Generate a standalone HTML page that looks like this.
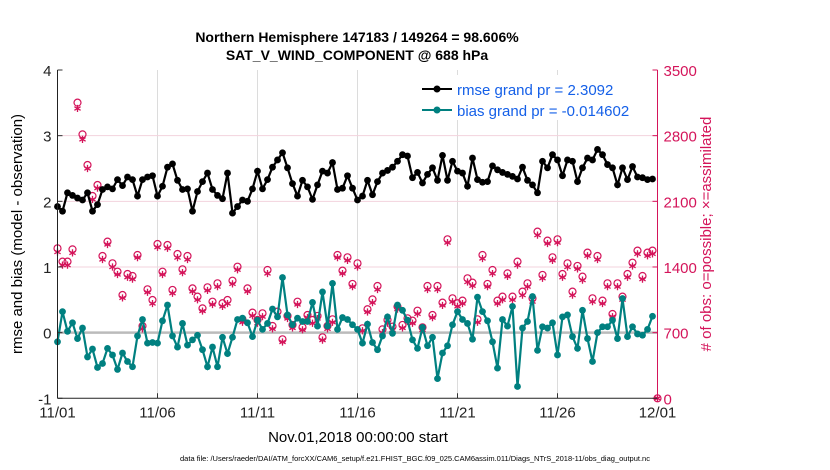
<!DOCTYPE html>
<html><head><meta charset="utf-8"><style>
body{margin:0;background:#fff;}
svg{display:block;font-family:"Liberation Sans",Arial,sans-serif;}
</style></head><body>
<svg id="chart" width="830" height="470" viewBox="0 0 830 470">
<text x="357" y="42" text-anchor="middle" font-size="14" font-weight="bold">Northern Hemisphere 147183 / 149264 = 98.606%</text>
<text x="357" y="60" text-anchor="middle" font-size="14" font-weight="bold">SAT_V_WIND_COMPONENT @ 688 hPa</text>
<g id="grid"></g>
<g id="marks"></g>
<g id="axes"></g>
<text transform="translate(22,234) rotate(-90)" text-anchor="middle" font-size="15">rmse and bias (model - observation)</text>
<text transform="translate(711,234) rotate(-90)" text-anchor="middle" font-size="15" fill="#d4145a"># of obs: o=possible; ×=assimilated</text>
<text x="358" y="442" text-anchor="middle" font-size="15">Nov.01,2018 00:00:00 start</text>
<text x="415" y="461" text-anchor="middle" font-size="7.5">data file: /Users/raeder/DAI/ATM_forcXX/CAM6_setup/f.e21.FHIST_BGC.f09_025.CAM6assim.011/Diags_NTrS_2018-11/obs_diag_output.nc</text>
<g>
<rect x="418" y="75" width="235" height="45" fill="#fff"/>
<line x1="422" y1="89" x2="452" y2="89" stroke="#000" stroke-width="2"/>
<circle cx="437" cy="89" r="3.5" fill="#000"/>
<text x="457" y="95" font-size="15" fill="#1560e8">rmse grand pr = 2.3092</text>
<line x1="422" y1="110" x2="452" y2="110" stroke="#008080" stroke-width="2"/>
<circle cx="437" cy="110" r="3.5" fill="#008080"/>
<text x="457" y="116" font-size="15" fill="#1560e8">bias grand pr = -0.014602</text>
</g>
</svg>
<script>
const xTickLabels=["11/01","11/06","11/11","11/16","11/21","11/26","12/01"];
const yTickLabels=["-1","0","1","2","3","4"];
const rTickLabels=["0","700","1400","2100","2800","3500"];
const rmse=[1.92,1.85,2.13,2.09,2.05,2.02,2.13,1.85,1.95,2.18,2.22,2.19,2.33,2.24,2.37,2.33,2.08,2.33,2.37,2.39,2.08,2.23,2.52,2.57,2.32,2.18,2.19,1.85,2.15,2.30,2.43,2.18,2.09,2.04,2.43,1.82,1.92,2.02,2.00,2.19,2.46,
2.19,2.33,2.52,2.63,2.74,2.51,2.27,2.08,2.32,2.22,2.03,2.25,2.46,2.43,2.59,2.18,2.20,2.39,2.20,2.02,2.08,2.32,2.10,2.30,2.43,2.47,2.52,2.61,2.71,2.69,2.36,2.44,2.28,2.41,2.51,2.32,2.70,2.32,2.61,2.46,
2.43,2.23,2.66,2.33,2.29,2.30,2.54,2.48,2.44,2.41,2.38,2.34,2.52,2.32,2.25,2.13,2.61,2.51,2.71,2.63,2.39,2.63,2.61,2.30,2.51,2.66,2.63,2.79,2.71,2.56,2.51,2.25,2.51,2.33,2.53,2.37,2.36,2.33,2.34];
const bias=[-0.14,0.32,0.02,0.15,-0.09,0.07,-0.37,-0.25,-0.53,-0.47,-0.24,-0.34,-0.56,-0.31,-0.44,-0.52,-0.05,0.20,-0.16,-0.15,-0.16,0.18,0.42,-0.05,-0.22,0.14,-0.19,-0.11,-0.04,-0.26,-0.52,-0.22,-0.52,-0.07,-0.32,-0.07,0.20,0.22,0.15,-0.06,0.19,
0.05,0.14,0.36,0.24,0.84,0.27,0.12,0.22,0.17,0.17,0.46,0.10,0.62,0.10,0.75,0.05,0.23,0.20,0.12,0.05,-0.16,0.13,-0.15,-0.26,-0.05,0.24,-0.01,0.42,0.34,0.19,-0.11,-0.24,0.08,-0.20,-0.07,-0.70,-0.31,-0.20,0.12,0.32,
0.20,0.14,-0.10,0.54,0.32,0.18,-0.14,-0.54,0.20,0.10,0.40,-0.82,0.07,0.17,0.55,-0.27,0.09,0.07,0.15,-0.34,0.24,0.27,-0.06,-0.24,0.34,-0.09,-0.44,0.00,0.09,0.09,0.19,-0.09,0.52,-0.06,0.09,-0.02,-0.04,0.05,0.25];
const possible=[1599,1457,1457,1588,3152,2814,2487,2157,2274,1517,1670,1439,1350,1101,1325,1304,1528,771,1162,1048,1645,1350,1634,1155,1538,1375,1517,1172,1084,959,1183,1030,1226,1013,1048,1254,1403,842,1172,913,835,
906,1368,771,924,629,878,782,1030,757,888,835,878,650,771,842,1528,1361,1503,1219,1439,746,949,1055,1197,735,835,764,977,782,853,828,934,757,1197,888,1197,1020,1695,1066,1013,
1041,1279,1233,842,1528,1219,1368,1041,1084,1332,1084,1457,1137,1226,1066,1777,1315,1681,1503,1695,1325,1439,1137,1411,1297,1553,1066,1517,1041,1226,899,1226,1084,1325,1446,1574,1304,1553,1574,0];
const assimilated=[1560,1420,1420,1550,3090,2760,2450,2120,2240,1480,1640,1400,1320,1070,1290,1270,1500,740,1130,1010,1610,1320,1600,1120,1500,1340,1480,1140,1050,930,1150,1000,1190,980,1010,1220,1370,810,1140,880,800,
870,1330,740,890,600,850,750,1000,730,860,800,850,620,740,810,1500,1330,1470,1190,1400,720,920,1020,1160,700,800,730,950,750,820,800,900,730,1160,860,1160,990,1660,1030,980,
1010,1240,1200,810,1490,1190,1330,1010,1050,1300,1050,1420,1100,1190,1030,1740,1280,1650,1470,1660,1290,1400,1100,1380,1260,1520,1030,1480,1010,1190,870,1190,1050,1290,1410,1540,1270,1520,1540,0];

const NS='http://www.w3.org/2000/svg';
const X0=57.5,X1=657.5,YT=70,YB=398.3;
const xs=i=>X0+(X1-X0)*i/120;
const ys=v=>YB-(v+1)*(YB-YT)/5;
const yr=c=>YB-c*(YB-YT)/3500;
function mk(tag,parent,attrs){const e=document.createElementNS(NS,tag);for(const k in attrs)e.setAttribute(k,attrs[k]);parent.appendChild(e);return e;}
const grid=document.getElementById('grid'),marks=document.getElementById('marks'),axes=document.getElementById('axes');
xTickLabels.forEach((t,i)=>{const x=xs(i*20);
 const g=mk('line',grid,{x1:x,x2:x,y1:YT,y2:YB,stroke:'#dcdcdc','stroke-width':1});
 
 
 const tl=mk('line',axes,{x1:x,x2:x,y1:YB,y2:YB-5,stroke:'#333'});
 
 
 const tx=mk('text',axes,{x:x,y:YB+19,'text-anchor':'middle','font-size':15,fill:'#222'});tx.textContent=t;
 
 
});
rTickLabels.forEach((t,i)=>{const y=yr(+t);
 if(i>0&&i<5){const g=mk('line',grid,{x1:X0,x2:X1,y1:y,y2:y,stroke:'#f3d3dd','stroke-width':1});
 
 }
 const tl=mk('line',axes,{x1:X1,x2:X1-5,y1:y,y2:y,stroke:'#d4145a'});
 
 
 const tx=mk('text',axes,{x:X1+6,y:y+6,'font-size':15,fill:'#d4145a'});tx.textContent=t;
 
 
});
yTickLabels.forEach(t=>{const y=ys(+t);
 const tl=mk('line',axes,{x1:X0,x2:X0+5,y1:y,y2:y,stroke:'#333'});
 
 
 const tx=mk('text',axes,{x:X0-6,y:y+6,'text-anchor':'end','font-size':15,fill:'#222'});tx.textContent=t;
 
 
});
const zl=mk('line',grid,{x1:X0,x2:X1,y1:ys(0),y2:ys(0),stroke:'#bbb','stroke-width':2.5});


possible.forEach((c,i)=>{
 const p=mk('circle',marks,{cx:xs(i),cy:yr(c),r:3.5,fill:'none',stroke:'#d4145a','stroke-width':1.2});
 
 
});
assimilated.forEach((c,i)=>{
 const x=xs(i),y=yr(c),r=3.6,h=r*0.866;
 const d=`M${x} ${y-r}L${x} ${y+r}M${x-h} ${y-r/2}L${x+h} ${y+r/2}M${x-h} ${y+r/2}L${x+h} ${y-r/2}`;
 const a=mk('path',marks,{d:d,stroke:'#d4145a','stroke-width':1.3,fill:'none'});
 
 
});
function series(vals,color,name){
 const pts=vals.map((v,i)=>xs(i)+','+ys(v)).join(' ');
 const l=mk('polyline',marks,{points:pts,fill:'none',stroke:color,'stroke-width':2.2});
 
 
 vals.forEach((v,i)=>{const c=mk('circle',marks,{cx:xs(i),cy:ys(v),r:3.4,fill:color});
  
  });
}
series(bias,'#008080','bias');
series(rmse,'#000','rmse');
const la=mk('line',axes,{x1:X0,x2:X0,y1:YT,y2:YB,stroke:'#222','stroke-width':1});


const ba=mk('line',axes,{x1:X0,x2:X1,y1:YB,y2:YB,stroke:'#222','stroke-width':1});


const ra=mk('line',axes,{x1:X1,x2:X1,y1:YT,y2:YB,stroke:'#d4145a','stroke-width':1});


</script>
</body></html>
